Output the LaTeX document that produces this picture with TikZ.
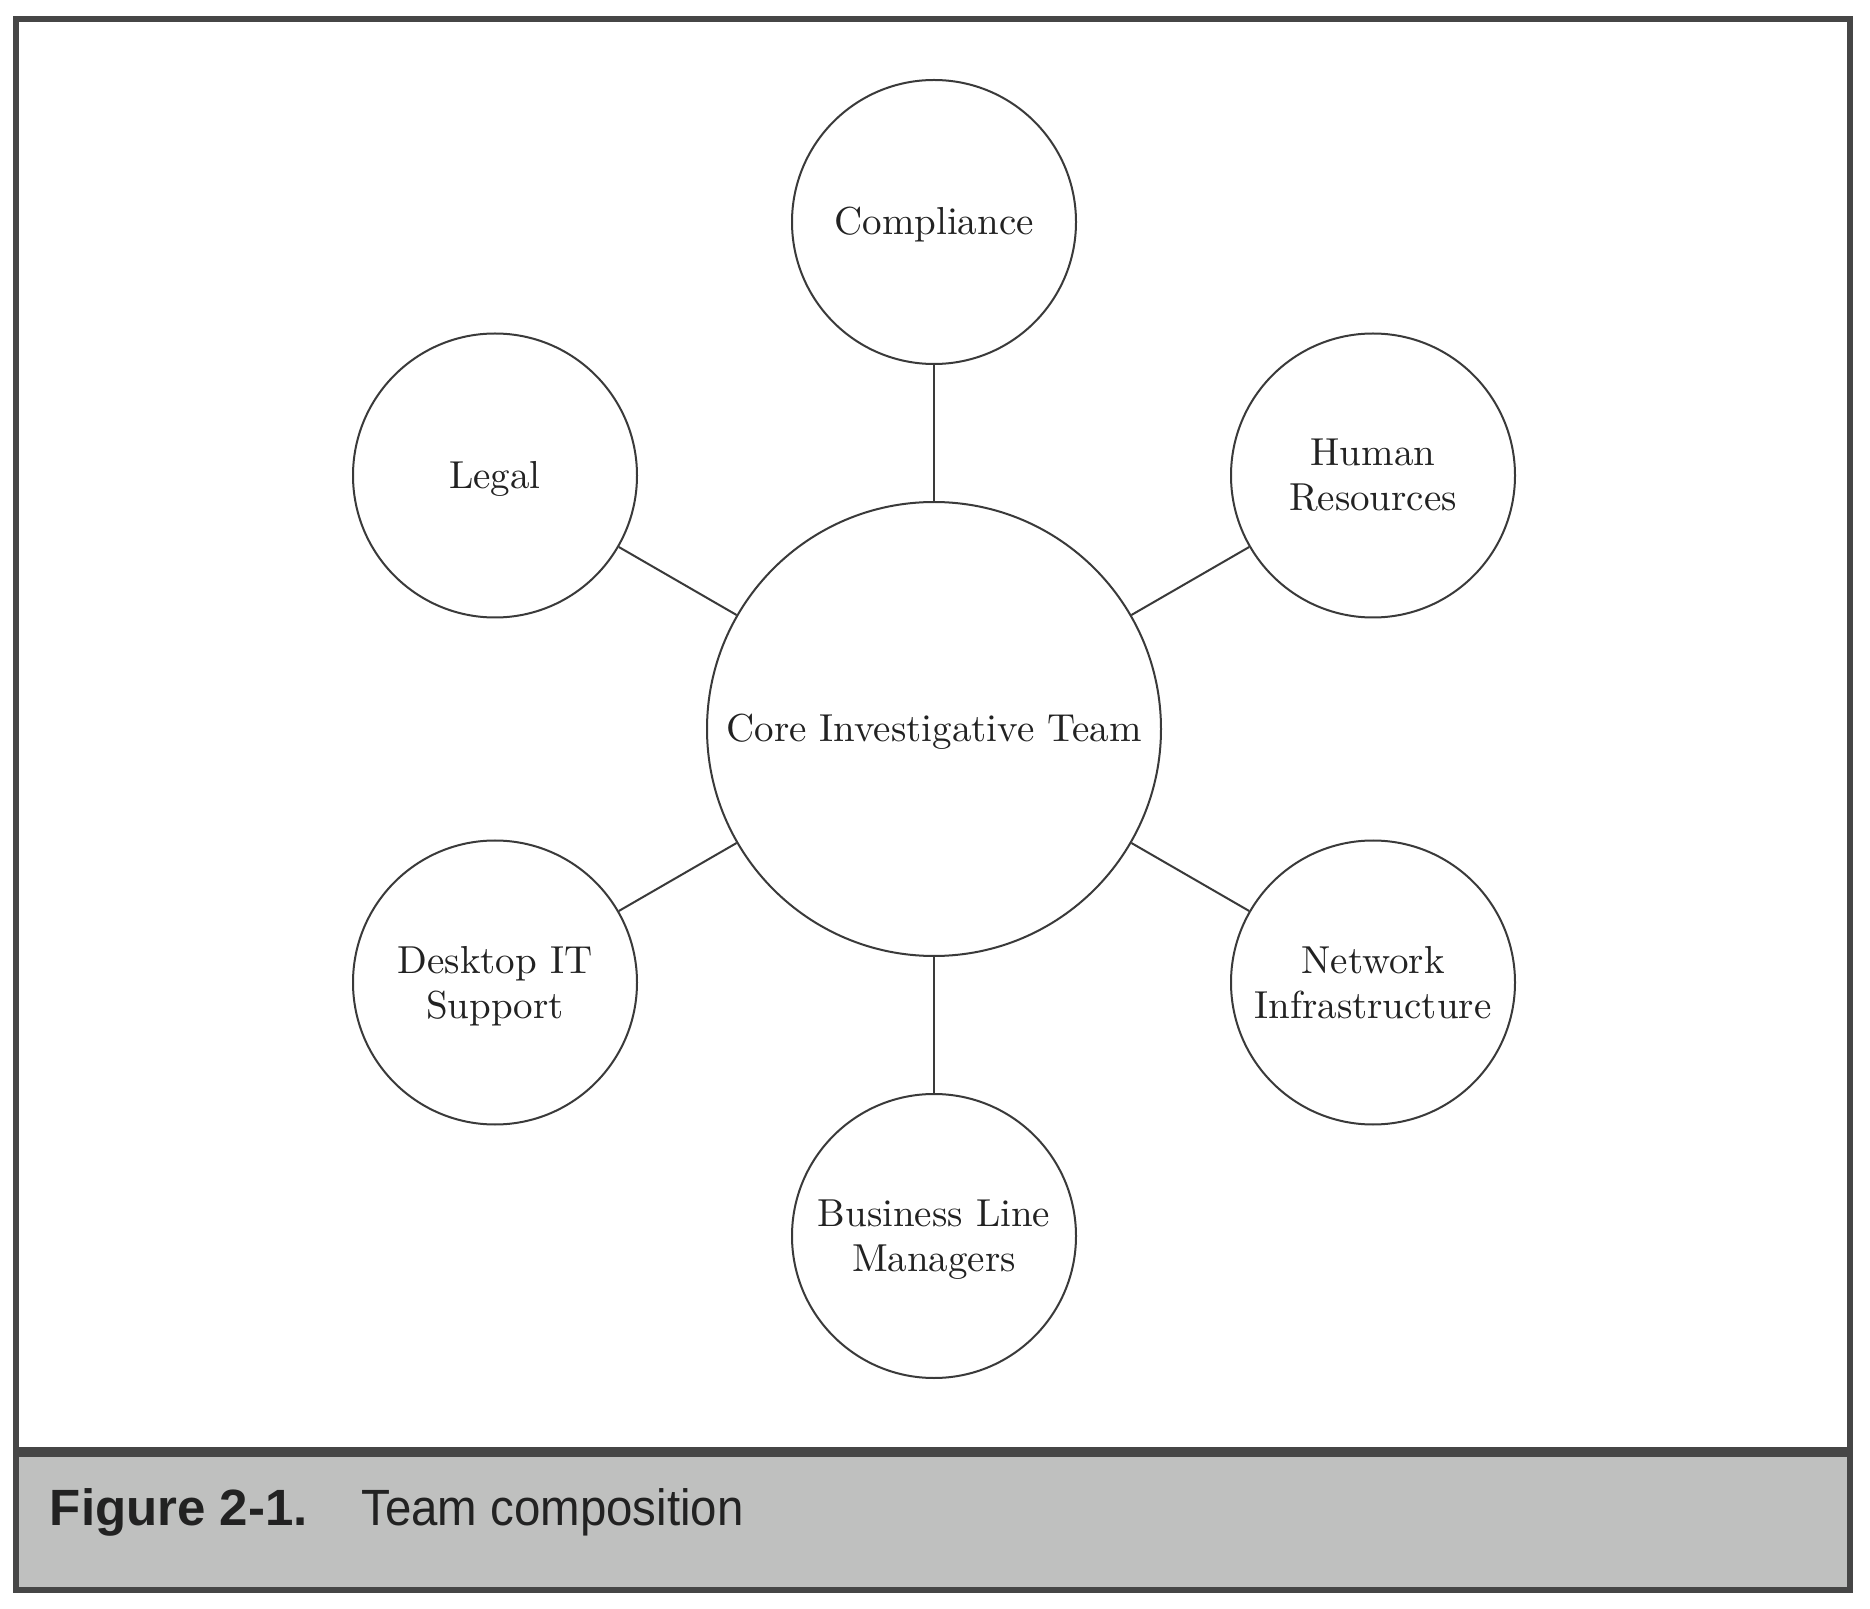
\documentclass[tikz,border=0pt]{standalone}
\usepackage{fontspec}
\setmainfont{lmroman10-regular.otf}
\newfontfamily\capbold{Liberation Sans}
\newfontfamily\capreg[FakeStretch=0.93]{Liberation Sans}
\definecolor{framec}{HTML}{464646}
\definecolor{bandc}{HTML}{BFC0BF}
\definecolor{linec}{HTML}{3A3A3A}
\definecolor{textc}{HTML}{222222}
\newcommand\oneline[1]{\raisebox{0pt}[13.5pt][0.5pt]{#1}}
\newcommand\twoline[2]{\raisebox{0pt}[13.5pt][23pt]{\begin{tabular}[t]{@{}c@{}}#1\\#2\end{tabular}}}
\tikzset{
  unit/.style={circle, draw=linec, line width=1pt, text=textc, inner sep=0pt,
    font=\fontsize{19.5}{22.5}\selectfont},
  small/.style={unit, minimum size=142pt},
  big/.style={unit, minimum size=227pt},
  link/.style={draw=linec, line width=1pt},
}
\begin{document}
\begin{tikzpicture}[x=0.5pt, y=-0.5pt]
  \useasboundingbox (0,0) rectangle (1870,1609);
  \fill[white] (0,0) rectangle (1870,1609);
  \fill[bandc] (16,1452) rectangle (1850,1590);
  \draw[framec, line width=2.6pt] (16,19) rectangle (1850,1590);
  \draw[framec, line width=5pt] (16,1452) -- (1850,1452);

  \node[big]   (core)  at (934,729)    {\oneline{Core Investigative Team}};
  \node[small] (comp)  at (934,222)    {\oneline{Compliance}};
  \node[small] (legal) at (495,475.5)  {\oneline{Legal}};
  \node[small] (hr)    at (1373,475.5) {\twoline{Human}{Resources}};
  \node[small] (desk)  at (495,982.5)  {\twoline{Desktop IT}{Support}};
  \node[small] (net)   at (1373,982.5) {\twoline{Network}{Infrastructure}};
  \node[small] (biz)   at (934,1236)   {\twoline{Business Line}{Managers}};

  \foreach \t in {comp,legal,hr,desk,net,biz} \draw[link] (core) -- (\t);

  \node[anchor=base west, inner sep=0pt, text=textc, font=\capbold\bfseries\fontsize{25.5}{30}\selectfont] (fig) at (49.5,1525) {Figure 2-1.};
  \node[anchor=base west, inner sep=0pt, text=textc, font=\capreg\fontsize{25.5}{30}\selectfont] (cap) at (361,1525) {Team composition};
\end{tikzpicture}
\end{document}
